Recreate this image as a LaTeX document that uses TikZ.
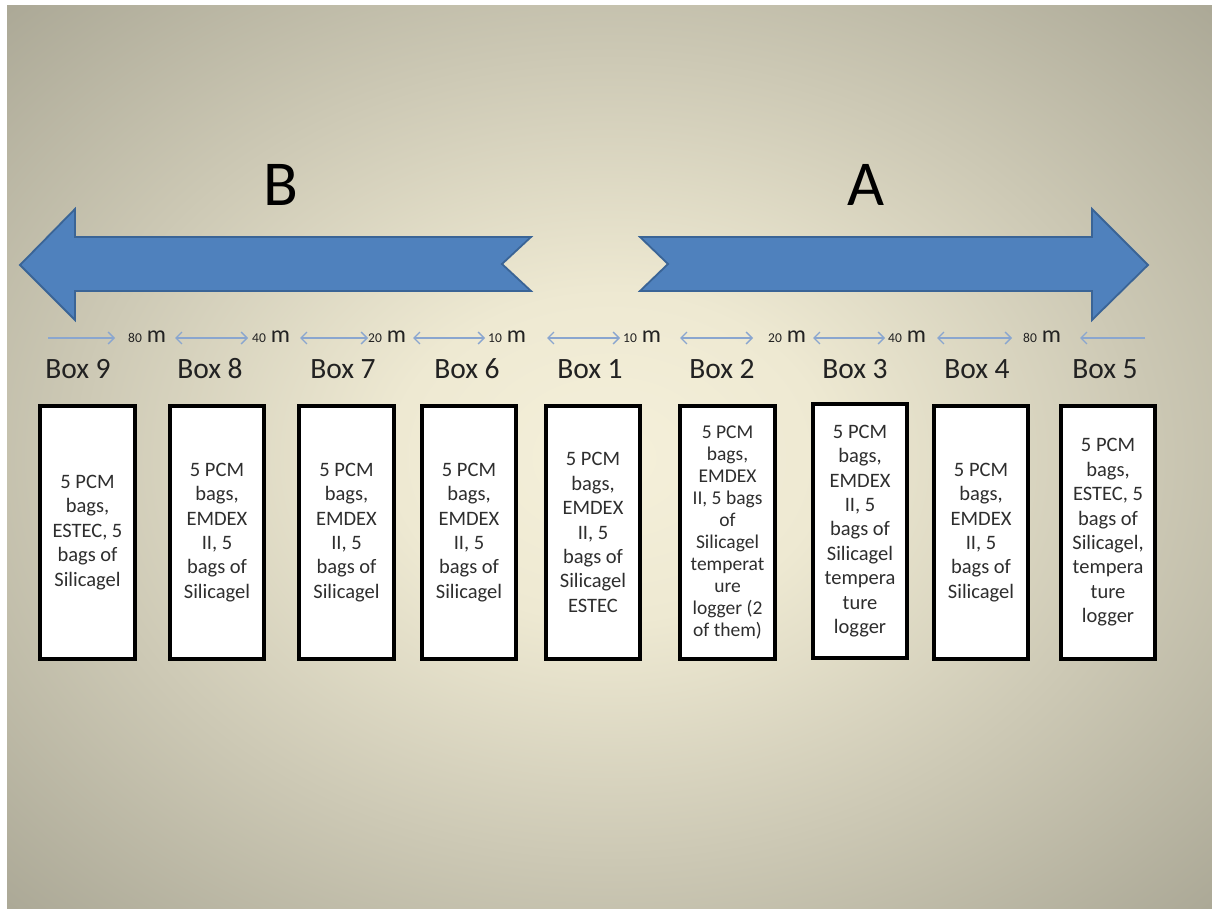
\documentclass[tikz,border=0pt]{standalone}
\usepackage{fontspec}
\setmainfont{Carlito}
\usetikzlibrary{arrows.meta}
\definecolor{arrowblue}{HTML}{4F81BD}
\definecolor{arrowdark}{HTML}{3A6496}
\definecolor{distblue}{HTML}{8AA6CF}
\definecolor{txtgray}{HTML}{2E2E2E}
\definecolor{lblgray}{HTML}{222222}
\definecolor{bgA}{HTML}{F5F0DA}
\definecolor{bgB}{HTML}{EEE9D2}
\definecolor{bgC}{HTML}{CDC9B5}
\definecolor{bgD}{HTML}{AAA795}
\definecolor{bgE}{HTML}{8A887C}
\pgfdeclareradialshading{bgshade}{\pgfpoint{0bp}{0bp}}{color(0bp)=(bgA); color(9bp)=(bgB); color(22bp)=(bgC); color(36bp)=(bgD); color(50bp)=(bgE)}
\tikzset{
  barb/.tip={Straight Barb[length=6pt,width=12pt,line width=1.3pt]},
  bigarrow/.style={fill=arrowblue, draw=arrowdark, line width=1.8pt, line join=miter},
  dist/.style={draw=distblue, line width=1.4pt},
  distlabel/.style={anchor=base west, inner sep=0pt, text=lblgray},
  boxlabel/.style={anchor=base, inner sep=0pt, text=lblgray, font=\fontsize{29.5}{31}\selectfont},
  bigletter/.style={anchor=base, inner sep=0pt, text=black, font=\fontsize{64}{66}\selectfont},
  stationbox/.style={draw=black, fill=white, line width=3.6pt, minimum width=94.5pt, minimum height=253.5pt,
    inner sep=0pt, align=center, text=txtgray, font=\fontsize{20.5}{24.4}\selectfont},
}
\newcommand{\distlab}[1]{{\fontsize{13.5}{13}\selectfont #1}\hspace{5pt}{\fontsize{24}{23}\selectfont m}}
\begin{document}
\begin{tikzpicture}[x=1pt,y=-1pt]
\useasboundingbox (0,0) rectangle (1212,909);
\fill[white] (0,0) rectangle (1212,909);
\shade[shading=bgshade] (7,6) rectangle (1212,909);

% big arrows
\draw[bigarrow] (20,265) -- (75,209) -- (75,237) -- (531,237) -- (502,264) -- (531,291) -- (75,291) -- (75,320) -- cycle;
\draw[bigarrow] (640,237) -- (1092,237) -- (1092,209) -- (1148,265) -- (1092,320) -- (1092,291) -- (640,291) -- (668,264) -- cycle;
\node[bigletter] (B) at (281,206) {B};
\node[bigletter] (A) at (866,206) {A};

% distance labels
\node[distlabel] (l1) at (128,342) {\distlab{80}};
\node[distlabel] (l2) at (252,342) {\distlab{40}};
\node[distlabel] (l3) at (368,342) {\distlab{20}};
\node[distlabel] (l4) at (488,342) {\distlab{10}};
\node[distlabel] (l5) at (623,342) {\distlab{10}};
\node[distlabel] (l6) at (768,342) {\distlab{20}};
\node[distlabel] (l7) at (888,342) {\distlab{40}};
\node[distlabel] (l8) at (1023,342) {\distlab{80}};

% distance arrows
\coordinate (a0s) at (48,338);   \coordinate (a0e) at (115,338);
\coordinate (a1s) at (175,338);  \coordinate (a1e) at (248,338);
\coordinate (a2s) at (300,338);  \coordinate (a2e) at (368,338);
\coordinate (a3s) at (413,338);  \coordinate (a3e) at (485,338);
\coordinate (a4s) at (547,338);  \coordinate (a4e) at (620,338);
\coordinate (a5s) at (680,338);  \coordinate (a5e) at (753,338);
\coordinate (a6s) at (813,338);  \coordinate (a6e) at (885,338);
\coordinate (a7s) at (937,338);  \coordinate (a7e) at (1012,338);
\coordinate (a8s) at (1145,338); \coordinate (a8e) at (1080,338);
\draw[dist, -barb] (a0s) -- (a0e);
\draw[dist, barb-barb] (a1s) -- (a1e);
\draw[dist, barb-barb] (a2s) -- (a2e);
\draw[dist, barb-barb] (a3s) -- (a3e);
\draw[dist, barb-barb] (a4s) -- (a4e);
\draw[dist, barb-barb] (a5s) -- (a5e);
\draw[dist, barb-barb] (a6s) -- (a6e);
\draw[dist, barb-barb] (a7s) -- (a7e);
\draw[dist, -barb] (a8s) -- (a8e);

% box labels
\node[boxlabel] (t9) at (78,378) {Box 9};
\node[boxlabel] (t8) at (210,378) {Box 8};
\node[boxlabel] (t7) at (343,378) {Box 7};
\node[boxlabel] (t6) at (467,378) {Box 6};
\node[boxlabel] (t1) at (590,378) {Box 1};
\node[boxlabel] (t2) at (722,378) {Box 2};
\node[boxlabel] (t3) at (855,378) {Box 3};
\node[boxlabel] (t4) at (977,378) {Box 4};
\node[boxlabel] (t5) at (1105,378) {Box 5};

% boxes
\node[stationbox] (b9) at (87.5,532.5) {5 PCM\\bags,\\ESTEC, 5\\bags of\\Silicagel};
\node[stationbox] (b8) at (217,532.5) {5 PCM\\bags,\\EMDEX\\II, 5\\bags of\\Silicagel};
\node[stationbox] (b7) at (346.5,532.5) {5 PCM\\bags,\\EMDEX\\II, 5\\bags of\\Silicagel};
\node[stationbox] (b6) at (469,532.5) {5 PCM\\bags,\\EMDEX\\II, 5\\bags of\\Silicagel};
\node[stationbox] (b1) at (593,532.5) {5 PCM\\bags,\\EMDEX\\II, 5\\bags of\\Silicagel\\ESTEC};
\node[stationbox, font=\fontsize{19.5}{22.1}\selectfont] (b2) at (727.5,532.5) {5 PCM\\bags,\\EMDEX\\II, 5 bags\\of\\Silicagel\\temperat\\ure\\logger (2\\of them)};
\node[stationbox] (b3) at (860,531) {5 PCM\\bags,\\EMDEX\\II, 5\\bags of\\Silicagel\\tempera\\ture\\logger};
\node[stationbox] (b4) at (981,532.5) {5 PCM\\bags,\\EMDEX\\II, 5\\bags of\\Silicagel};
\node[stationbox] (b5) at (1108,532.5) {5 PCM\\bags,\\ESTEC, 5\\bags of\\Silicagel,\\tempera\\ture\\logger};
\end{tikzpicture}
\end{document}
